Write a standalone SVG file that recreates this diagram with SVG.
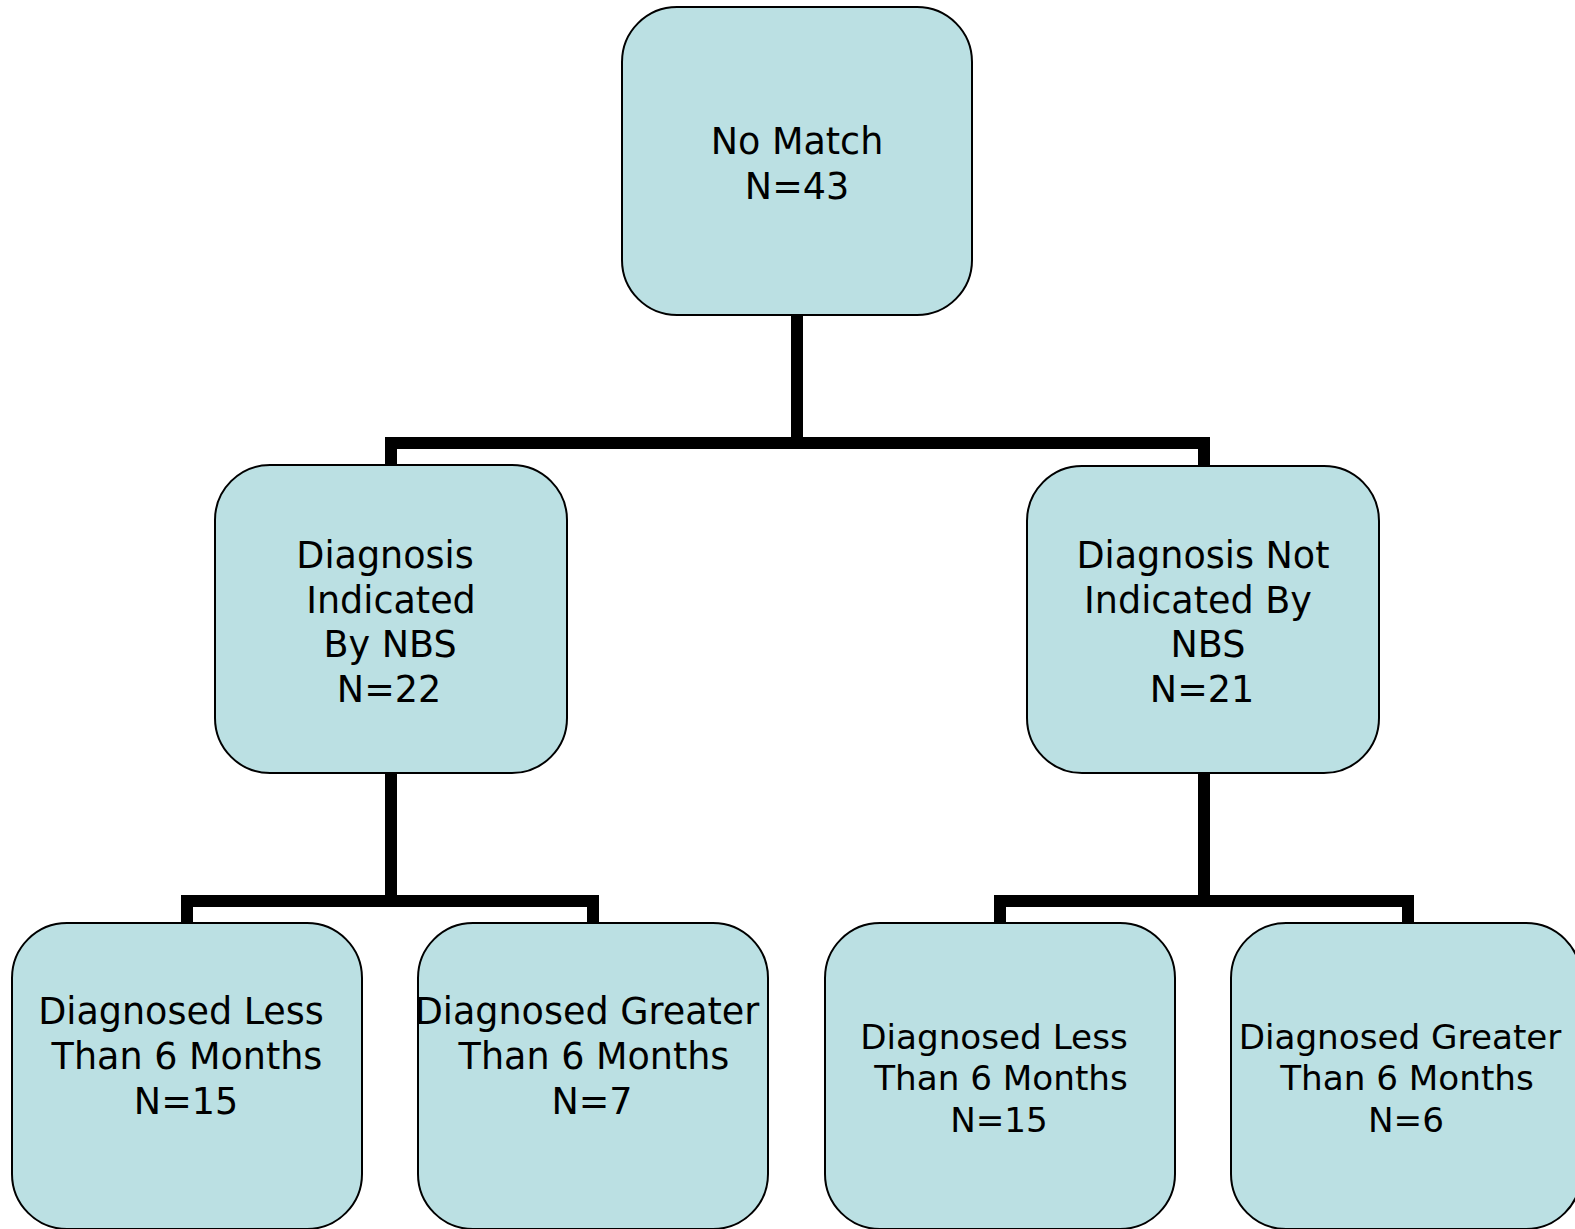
<svg xmlns="http://www.w3.org/2000/svg" width="1575" height="1229" viewBox="0 0 1575 1229">
<style>
.box{fill:#bbe0e3;stroke:#000;stroke-width:2}
.conn{fill:none;stroke:#000;stroke-width:12;stroke-linejoin:miter;stroke-linecap:butt}
text{font-family:"DejaVu Sans","Verdana",sans-serif;font-size:36.5px;fill:#000;text-anchor:middle}
.sm{font-size:34.2px}
</style>
<rect width="1575" height="1229" fill="#fff"/>
<g id="connectors">
<path class="conn" d="M797 315V443M391 466V443H1204V466"/>
<path class="conn" d="M391 773V901M187 924V901H593V924"/>
<path class="conn" d="M1204 773V901M1000 924V901H1408V924"/>
</g>
<g id="n-root">
<rect class="box" x="622" y="7" width="350" height="308" rx="55"/>
<text x="797" y="154">No Match</text>
<text x="797" y="199">N=43</text>
</g>
<g id="n-indicated">
<rect class="box" x="215" y="465" width="352" height="308" rx="55"/>
<text x="385" y="568">Diagnosis</text>
<text x="391" y="613">Indicated</text>
<text x="390" y="657">By NBS</text>
<text x="389" y="702">N=22</text>
</g>
<g id="n-notindicated">
<rect class="box" x="1027" y="466" width="352" height="307" rx="55"/>
<text x="1203" y="568">Diagnosis Not</text>
<text x="1198" y="613">Indicated By</text>
<text x="1208" y="657">NBS</text>
<text x="1202" y="702">N=21</text>
</g>
<g id="n-ind-less">
<rect class="box" x="12" y="923" width="350" height="306" rx="55"/>
<text x="181" y="1024">Diagnosed Less</text>
<text x="187" y="1069">Than 6 Months</text>
<text x="186" y="1114">N=15</text>
</g>
<g id="n-ind-greater">
<rect class="box" x="418" y="923" width="350" height="306" rx="55"/>
<text x="587" y="1024">Diagnosed Greater</text>
<text x="594" y="1069">Than 6 Months</text>
<text x="592" y="1114">N=7</text>
</g>
<g id="n-not-less">
<rect class="box" x="825" y="923" width="350" height="306" rx="55"/>
<text class="sm" x="994" y="1049">Diagnosed Less</text>
<text class="sm" x="1001" y="1090">Than 6 Months</text>
<text class="sm" x="999" y="1132">N=15</text>
</g>
<g id="n-not-greater">
<rect class="box" x="1231" y="923" width="350" height="306" rx="55"/>
<text class="sm" x="1400" y="1049">Diagnosed Greater</text>
<text class="sm" x="1407" y="1090">Than 6 Months</text>
<text class="sm" x="1406" y="1132">N=6</text>
</g>
</svg>
